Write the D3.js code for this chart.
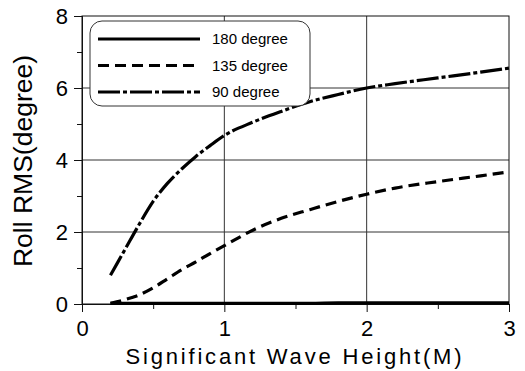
<!DOCTYPE html>
<html>
<head>
<meta charset="utf-8">
<script src="https://cdn.jsdelivr.net/npm/d3@7"></script>
<style>
  body { margin: 0; background: #fff; }
  text { font-family: "Liberation Sans", Arial, sans-serif; fill: #000; }
</style>
</head>
<body>
<svg id="chart" width="525" height="371"></svg>
<script>
// wave height (m)
var waveHeight = [0.2, 0.3, 0.4, 0.5, 0.6, 0.7, 0.8, 0.9, 1.0, 1.2, 1.4, 1.6, 1.8, 2.0, 2.2, 2.5, 2.8, 3.0];
// roll RMS (degree) per heading
var roll180 = [0.02, 0.02, 0.02, 0.02, 0.02, 0.02, 0.02, 0.02, 0.02, 0.02, 0.02, 0.02, 0.03, 0.03, 0.03, 0.03, 0.03, 0.03];
var roll135 = [0.02, 0.12, 0.25, 0.45, 0.7, 0.95, 1.17, 1.4, 1.62, 2.05, 2.38, 2.62, 2.85, 3.05, 3.22, 3.4, 3.56, 3.67];
var roll90  = [0.8, 1.5, 2.2, 2.85, 3.35, 3.75, 4.1, 4.4, 4.68, 5.05, 5.35, 5.62, 5.82, 6.0, 6.12, 6.28, 6.44, 6.55];
var seriesNames = ["180 degree", "135 degree", "90 degree"];
var xTicks = [0, 1, 2, 3];
var yTicks = [0, 2, 4, 6, 8];

var svg = d3.select("#chart");
var margin = {top: 16, right: 16, bottom: 67, left: 82};
var width = 525 - margin.left - margin.right;
var height = 371 - margin.top - margin.bottom;
var g = svg.append("g").attr("transform", "translate(" + margin.left + "," + margin.top + ")");

var x = d3.scaleLinear().domain([0, 3]).range([0, width]);
var y = d3.scaleLinear().domain([0, 8]).range([height, 0]);

var dashes = ["none", "11,6", "22,3,4,3"];
var series = [roll180, roll135, roll90].map((vals, i) => ({
  name: seriesNames[i],
  dash: dashes[i],
  points: waveHeight.map((h, j) => [h, vals[j]])
}));

// grid
g.append("g").selectAll("line")
  .data(yTicks.slice(1, -1))
  .enter().append("line")
    .attr("x1", 0).attr("x2", width)
    .attr("y1", d => y(d)).attr("y2", d => y(d))
    .attr("stroke", "#333").attr("stroke-width", 1);
g.append("g").selectAll("line")
  .data(xTicks.slice(1, -1))
  .enter().append("line")
    .attr("y1", 0).attr("y2", height)
    .attr("x1", d => x(d)).attr("x2", d => x(d))
    .attr("stroke", "#333").attr("stroke-width", 1);

// frame
g.append("rect")
  .attr("width", width).attr("height", height)
  .attr("fill", "none").attr("stroke", "#111").attr("stroke-width", 1);

// axes
var xAxis = g.append("g")
  .attr("transform", "translate(0," + height + ")")
  .call(d3.axisBottom(x).tickValues(xTicks).tickSize(8).tickPadding(7).tickFormat(d3.format("d")));
var xMinor = g.append("g")
  .attr("transform", "translate(0," + height + ")")
  .call(d3.axisBottom(x).tickValues([0.5, 1.5, 2.5]).tickSize(5).tickFormat(""));
var yAxis = g.append("g")
  .call(d3.axisLeft(y).tickValues(yTicks).tickSize(8).tickPadding(6).tickFormat(d3.format("d")));
var yMinor = g.append("g")
  .call(d3.axisLeft(y).tickValues([1, 3, 5, 7]).tickSize(5).tickFormat(""));

[xAxis, xMinor, yAxis, yMinor].forEach(a => {
  a.select(".domain").attr("stroke", "#111");
  a.selectAll(".tick line").attr("stroke", "#111");
  a.selectAll("text").style("font-size", "22px").style("font-family", "'Liberation Sans', Arial, sans-serif");
});
xAxis.selectAll("text").attr("dy", "0.78em");

// lines
var line = d3.line().x(d => x(d[0])).y(d => y(d[1])).curve(d3.curveMonotoneX);
g.append("g").selectAll("path")
  .data(series)
  .enter().append("path")
    .attr("d", d => line(d.points))
    .attr("fill", "none")
    .attr("stroke", "#000")
    .attr("stroke-width", 3.2)
    .attr("stroke-dasharray", d => d.dash);

// legend
var legend = svg.append("g").attr("transform", "translate(90,21)");
legend.append("rect")
  .attr("width", 220).attr("height", 85).attr("rx", 12).attr("ry", 12)
  .attr("fill", "#fff").attr("stroke", "#333").attr("stroke-width", 1);
var item = legend.selectAll(".item")
  .data(series)
  .enter().append("g")
    .attr("transform", (d, i) => "translate(0," + (18 + i * 26.5) + ")");
item.append("line")
  .attr("x1", 8).attr("x2", 110)
  .attr("stroke", "#000").attr("stroke-width", 3)
  .attr("stroke-dasharray", d => d.dash);
item.append("text")
  .attr("x", 122).attr("dy", "0.35em")
  .style("font-size", "15px")
  .text(d => d.name);

// axis titles
svg.append("text")
  .attr("x", margin.left + width / 2 - 2).attr("y", 364)
  .attr("text-anchor", "middle")
  .style("font-size", "22px")
  .attr("textLength", 336).attr("lengthAdjust", "spacing")
  .text("Significant Wave Height(M)");
svg.append("text")
  .attr("transform", "translate(32," + 161 + ") rotate(-90)")
  .attr("text-anchor", "middle")
  .style("font-size", "26.5px")
  .text("Roll RMS(degree)");
</script>
</body>
</html>
